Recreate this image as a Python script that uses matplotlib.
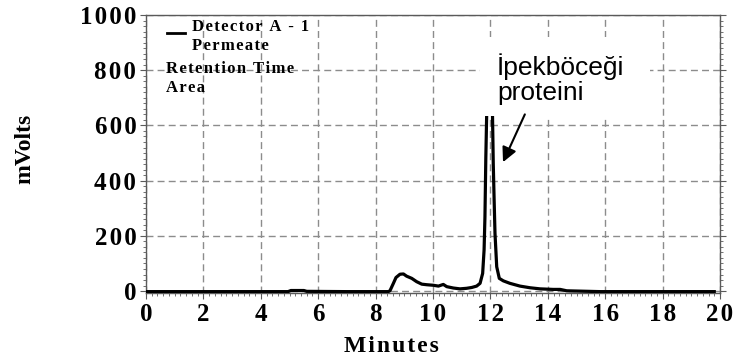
import matplotlib.pyplot as plt
from matplotlib.patches import Rectangle
from matplotlib.lines import Line2D
from matplotlib.ticker import MultipleLocator, FuncFormatter

# detector trace (retention time in minutes, signal in mV)
minutes = [0.0, 2.0, 4.0, 4.95, 5.05, 5.5, 5.6, 7.0, 8.44, 8.50,
           8.62, 8.71, 8.85, 8.97, 9.08, 9.26, 9.43, 9.61, 9.78, 10.01,
           10.19, 10.30, 10.36, 10.48, 10.71, 10.94, 11.17, 11.35, 11.52, 11.64,
           11.73, 11.78, 11.81, 11.84, 11.88, 11.95, 12.00, 12.04, 12.07, 12.10,
           12.13, 12.16, 12.22, 12.31, 12.45, 12.68, 13.03, 13.38, 13.73, 14.19,
           14.43, 14.66, 15.82, 17.0, 19.8]
mvolts = [-2, -2, -2, -2, 2, 2, -1, -2, -2, 1,
          28, 49, 61, 62, 54, 46, 34, 25, 23, 21,
          18, 22, 24, 16, 11, 8, 10, 13, 18, 28,
          64, 149, 269, 480, 690, 850, 880, 820, 660, 460,
          330, 209, 88, 46, 37, 28, 18, 12, 8, 6,
          6, 1, -2, -2, -2]

x_ticks = [0, 2, 4, 6, 8, 10, 12, 14, 16, 18, 20]
y_ticks = [0, 200, 400, 600, 800, 1000]

legend_lines = ["Detector A - 1", "Permeate", "Retention Time", "Area"]
peak_label = "İpekböceği\nproteini"

serif = ["Liberation Serif", "DejaVu Serif"]
W, H = 736, 363


def spaced(s, gap="\u200a"):
    # loose letter spacing like the instrument software printout
    return gap.join(s)


fig = plt.figure(figsize=(W / 100, H / 100), dpi=100)
ax = fig.add_axes([146 / W, 1 - 293 / H, (720 - 146) / W, (293 - 15) / H])

ax.plot(minutes, mvolts, color="black", lw=2.3, solid_joinstyle="round", zorder=3)

ax.set_xlim(0, 20)
ax.set_ylim(-7, 1000)
ax.set_xticks(x_ticks)
ax.set_yticks(y_ticks)
ax.xaxis.set_major_formatter(FuncFormatter(lambda v, p: spaced(f"{v:g}")))
ax.yaxis.set_major_formatter(FuncFormatter(lambda v, p: spaced(f"{v:g}")))
ax.xaxis.set_minor_locator(MultipleLocator(0.2))
ax.yaxis.set_minor_locator(MultipleLocator(20))
ax.grid(True, which="major", color="#8c8c8c", lw=1.0, dashes=(5, 3))
ax.set_axisbelow(True)

for s in ax.spines.values():
    s.set_color("#5a5a5a")
    s.set_linewidth(1.0)

ax.tick_params(which="both", direction="out", color="#5a5a5a", right=True, top=False)
ax.tick_params(which="major", length=4, width=0.8, pad=3)
ax.tick_params(which="minor", length=2, width=0.6)
ax.tick_params(axis="y", which="both", labelright=False)
for lab in ax.get_xticklabels() + ax.get_yticklabels():
    lab.set_fontfamily(serif)
    lab.set_fontweight("bold")
    lab.set_fontsize(18)

ax.set_ylabel("mVolts", fontfamily=serif, fontweight="bold", fontsize=17)
ax.yaxis.set_label_coords(-0.193, 0.52)
ax.set_xlabel(spaced("Minutes"), fontfamily=serif, fontweight="bold", fontsize=17)
ax.xaxis.set_label_coords((391 - 146) / 574, -0.155)

# white panel behind the peak label
ax.add_patch(Rectangle((0.582, 0.637), 0.296, 0.284, transform=ax.transAxes,
                       facecolor="white", edgecolor="none", zorder=4))
ax.text(497 / W, 1 - 100 / H, peak_label, transform=fig.transFigure,
        fontfamily="Liberation Sans", fontsize=19, linespacing=1.05,
        ha="left", va="baseline", zorder=5)
ax.annotate("", xy=(12.44, 467), xytext=(13.2, 640),
            arrowprops=dict(arrowstyle="-|>", color="black", lw=1.5,
                            mutation_scale=22, shrinkA=0, shrinkB=0),
            zorder=6)

# legend block in the upper left corner
fig.add_artist(Line2D([167 / W, 185 / W], [1 - 33 / H, 1 - 33 / H],
                      color="black", lw=2, transform=fig.transFigure))
legend_pos = [(192, 27), (192, 46), (166, 69), (166, 88)]
for txt, (px, py) in zip(legend_lines, legend_pos):
    fig.text(px / W, 1 - py / H, spaced(txt), fontfamily=serif,
             fontweight="bold", fontsize=12, ha="left", va="center")

fig.savefig("out.png", dpi=100)
